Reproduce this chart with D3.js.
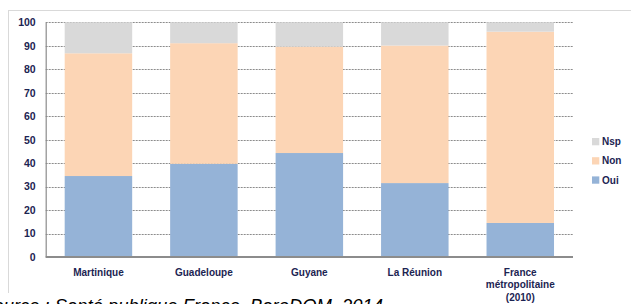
<!DOCTYPE html>
<html><head><meta charset="utf-8">
<script src="https://cdn.jsdelivr.net/npm/d3@7"></script>
<style>body{margin:0;background:#fff}svg{display:block}</style>
</head><body>
<svg id="c" width="631" height="304"></svg>
<script>
const categories = ["Martinique","Guadeloupe","Guyane","La Réunion","France\nmétropolitaine\n(2010)"];
const oui = [34.5, 39.7, 44.3, 31.5, 14.5];
const non = [52.3, 51.4, 45.3, 58.6, 81.5];
const nsp = [13.2, 8.9, 10.4, 9.9, 4.0];
const seriesNames = ["Oui","Non","Nsp"];
const seriesColors = ["#95b3d7","#fcd5b5","#d9d9d9"];
const yTicks = [0,10,20,30,40,50,60,70,80,90,100];
const source = "Source : Santé publique France, BaroDOM, 2014";

(function(){
const svg = d3.select("#c");
const mLeft = 45.7, mRight = 573, mTop = 22.3, mBottom = 257;
const x = d3.scaleBand().domain(d3.range(categories.length)).range([mLeft, mRight]).paddingInner(0.36).paddingOuter(0.18);
const y = d3.scaleLinear().domain([0,100]).range([mBottom, mTop]);
const labelColor = "#1c2452";
const font = "'Liberation Sans', Arial, sans-serif";

// outer frame
svg.append("line").attr("x1",8).attr("x2",631).attr("y1",10.5).attr("y2",10.5).attr("stroke","#d9d9d9").attr("stroke-width",1);
svg.append("line").attr("x1",8.5).attr("x2",8.5).attr("y1",10.5).attr("y2",293).attr("stroke","#d9d9d9").attr("stroke-width",1);

// gridlines
svg.append("g").selectAll("line").data(yTicks.filter(d=>d>0)).join("line")
  .attr("x1",mLeft).attr("x2",mRight).attr("y1",d=>Math.round(y(d))+0.5).attr("y2",d=>Math.round(y(d))+0.5)
  .attr("stroke","#8c8c8c").attr("stroke-width",1).attr("stroke-dasharray","2,1");

// stacked data
const rows = categories.map((c,i)=>({i, Oui:oui[i], Non:non[i], Nsp:nsp[i]}));
const stack = d3.stack().keys(seriesNames)(rows);
svg.append("g").selectAll("g").data(stack).join("g")
  .attr("fill",(d,k)=>seriesColors[k])
  .selectAll("rect").data(d=>d).join("rect")
  .attr("x",d=>x(d.data.i)).attr("width",x.bandwidth())
  .attr("y",d=>y(d[1])).attr("height",d=>y(d[0])-y(d[1]));

// axes
const ya = svg.append("g").attr("transform",`translate(${mLeft},0)`).call(d3.axisLeft(y).tickValues(yTicks).tickSize(0).tickPadding(10));
ya.select(".domain").attr("stroke","#8c8c8c").attr("stroke-width",1.2);
ya.selectAll("text").attr("fill",labelColor).attr("font-family",font).attr("font-weight","bold").attr("font-size",10.5);

svg.append("line").attr("x1",mLeft).attr("x2",mRight).attr("y1",mBottom).attr("y2",mBottom).attr("stroke","#8c8c8c").attr("stroke-width",2);

// category labels
const xl = svg.append("g").selectAll("text").data(categories).join("text")
  .attr("x",(d,i)=>x(i)+x.bandwidth()/2).attr("y",275.5)
  .attr("text-anchor","middle").attr("fill",labelColor).attr("font-family",font).attr("font-weight","bold").attr("font-size",10);
xl.each(function(d){
  const t = d3.select(this);
  d.split("\n").forEach((line,j)=>{
    t.append("tspan").attr("x",t.attr("x")).attr("dy", j===0?0:12.5).text(line);
  });
});

// legend
const legendKeys = ["Nsp","Non","Oui"];
const lg = svg.append("g").selectAll("g").data(legendKeys).join("g")
  .attr("transform",(d,i)=>`translate(592,${141.7+i*19.2})`);
lg.append("rect").attr("x",0).attr("y",-3.7).attr("width",7.3).attr("height",7.3).attr("fill",d=>seriesColors[seriesNames.indexOf(d)]);
lg.append("text").attr("x",10).attr("y",3.5).text(d=>d).attr("fill",labelColor).attr("font-family",font).attr("font-weight","bold").attr("font-size",10);

// source
svg.append("text").attr("x",383).attr("y",311.5).attr("text-anchor","end").attr("font-family",font).attr("font-style","italic").attr("font-size",18.4).attr("fill","#000").text(source);
})();
</script>
</body></html>
